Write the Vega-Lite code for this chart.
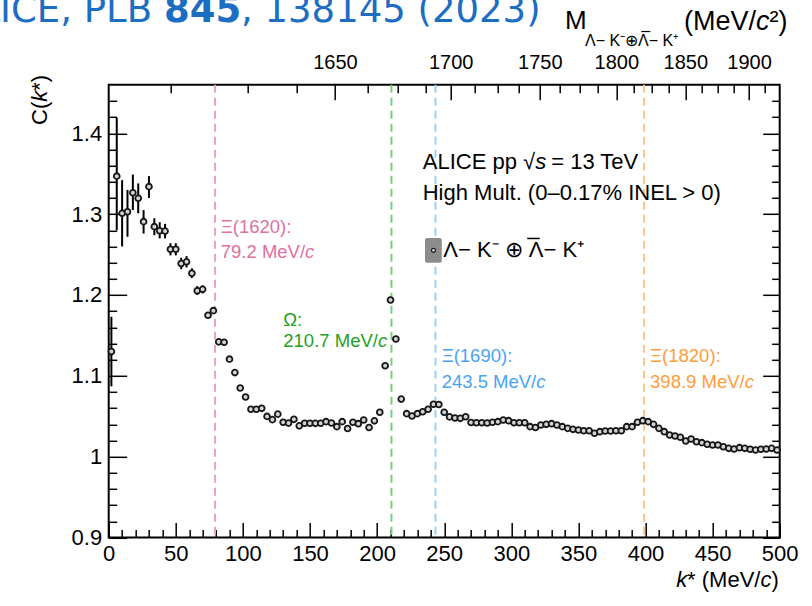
{
  "$schema": "https://vega.github.io/schema/vega-lite/v6.json",
  "width": 671,
  "height": 452.7,
  "autosize": {"type": "none"},
  "padding": {"left": 108.7, "top": 84.8, "right": 32.3, "bottom": 68.5},
  "background": "white",
  "config": {
    "view": {"stroke": "black", "strokeWidth": 2},
    "axis": {
      "grid": false, "domain": false, "tickColor": "black", "tickWidth": 1.5,
      "labelFont": "Liberation Sans", "labelFontSize": 22, "labelColor": "black",
      "titleFont": "Liberation Sans", "titleFontSize": 22, "titleFontWeight": "normal", "titleColor": "black",
      "labelFlush": false, "labelOverlap": false
    },
    "text": {"font": "Liberation Sans", "fontSize": 22, "color": "black"}
  },
  "datasets": {
    "corr": [
      {"k": 2, "C": 1.130, "lo": 1.087, "hi": 1.173},
      {"k": 6, "C": 1.347, "lo": 1.280, "hi": 1.419},
      {"k": 10, "C": 1.301, "lo": 1.260, "hi": 1.342},
      {"k": 14, "C": 1.303, "lo": 1.272, "hi": 1.330},
      {"k": 18, "C": 1.3265, "lo": 1.305, "hi": 1.349},
      {"k": 22, "C": 1.3196, "lo": 1.301, "hi": 1.338},
      {"k": 26, "C": 1.2907, "lo": 1.276, "hi": 1.305},
      {"k": 30, "C": 1.334, "lo": 1.320, "hi": 1.347},
      {"k": 34, "C": 1.2845, "lo": 1.274, "hi": 1.295},
      {"k": 38, "C": 1.2795, "lo": 1.270, "hi": 1.290},
      {"k": 42, "C": 1.279, "lo": 1.270, "hi": 1.288},
      {"k": 46, "C": 1.2565, "lo": 1.249, "hi": 1.264},
      {"k": 50, "C": 1.2565, "lo": 1.249, "hi": 1.264},
      {"k": 54, "C": 1.239, "lo": 1.232, "hi": 1.246},
      {"k": 58, "C": 1.241, "lo": 1.234, "hi": 1.248},
      {"k": 62, "C": 1.2268, "lo": 1.221, "hi": 1.233},
      {"k": 66, "C": 1.2053, "lo": 1.200, "hi": 1.211},
      {"k": 70, "C": 1.207, "lo": 1.202, "hi": 1.212},
      {"k": 74, "C": 1.175},
      {"k": 78, "C": 1.1806},
      {"k": 82, "C": 1.142},
      {"k": 86, "C": 1.1415},
      {"k": 90, "C": 1.1206},
      {"k": 94, "C": 1.104},
      {"k": 98, "C": 1.085},
      {"k": 102, "C": 1.0738},
      {"k": 106, "C": 1.0586},
      {"k": 110, "C": 1.0586},
      {"k": 114, "C": 1.0598},
      {"k": 118, "C": 1.0498},
      {"k": 122, "C": 1.0458},
      {"k": 126, "C": 1.0526},
      {"k": 130, "C": 1.0425},
      {"k": 134, "C": 1.0415},
      {"k": 138, "C": 1.0462},
      {"k": 142, "C": 1.0381},
      {"k": 146, "C": 1.0413},
      {"k": 150, "C": 1.0413},
      {"k": 154, "C": 1.0412},
      {"k": 158, "C": 1.0413},
      {"k": 162, "C": 1.0433},
      {"k": 166, "C": 1.0416},
      {"k": 170, "C": 1.0371},
      {"k": 174, "C": 1.0433},
      {"k": 178, "C": 1.0348},
      {"k": 182, "C": 1.0425},
      {"k": 186, "C": 1.0408},
      {"k": 190, "C": 1.0453},
      {"k": 194, "C": 1.036},
      {"k": 198, "C": 1.0443},
      {"k": 202, "C": 1.0549},
      {"k": 206, "C": 1.1125},
      {"k": 210, "C": 1.1938},
      {"k": 214, "C": 1.1456},
      {"k": 218, "C": 1.0712},
      {"k": 222, "C": 1.0532},
      {"k": 226, "C": 1.0503},
      {"k": 230, "C": 1.0532},
      {"k": 234, "C": 1.0556},
      {"k": 238, "C": 1.0586},
      {"k": 242, "C": 1.0648},
      {"k": 246, "C": 1.0645},
      {"k": 250, "C": 1.0549},
      {"k": 254, "C": 1.0492},
      {"k": 258, "C": 1.0478},
      {"k": 262, "C": 1.0474},
      {"k": 266, "C": 1.0494},
      {"k": 270, "C": 1.0422},
      {"k": 274, "C": 1.042},
      {"k": 278, "C": 1.042},
      {"k": 282, "C": 1.0417},
      {"k": 286, "C": 1.0425},
      {"k": 290, "C": 1.0433},
      {"k": 294, "C": 1.0453},
      {"k": 298, "C": 1.0445},
      {"k": 302, "C": 1.042},
      {"k": 306, "C": 1.042},
      {"k": 310, "C": 1.042},
      {"k": 314, "C": 1.0371},
      {"k": 318, "C": 1.036},
      {"k": 322, "C": 1.0392},
      {"k": 326, "C": 1.04},
      {"k": 330, "C": 1.0408},
      {"k": 334, "C": 1.0392},
      {"k": 338, "C": 1.0371},
      {"k": 342, "C": 1.035},
      {"k": 346, "C": 1.0338},
      {"k": 350, "C": 1.033},
      {"k": 354, "C": 1.0321},
      {"k": 358, "C": 1.0321},
      {"k": 362, "C": 1.0289},
      {"k": 366, "C": 1.0309},
      {"k": 370, "C": 1.0317},
      {"k": 374, "C": 1.0317},
      {"k": 378, "C": 1.0321},
      {"k": 382, "C": 1.0321},
      {"k": 386, "C": 1.0371},
      {"k": 390, "C": 1.0371},
      {"k": 394, "C": 1.0425},
      {"k": 398, "C": 1.0445},
      {"k": 402, "C": 1.0433},
      {"k": 406, "C": 1.04},
      {"k": 410, "C": 1.035},
      {"k": 414, "C": 1.0309},
      {"k": 418, "C": 1.0268},
      {"k": 422, "C": 1.0256},
      {"k": 426, "C": 1.024},
      {"k": 430, "C": 1.0194},
      {"k": 434, "C": 1.0218},
      {"k": 438, "C": 1.0185},
      {"k": 442, "C": 1.0173},
      {"k": 446, "C": 1.0153},
      {"k": 450, "C": 1.0144},
      {"k": 454, "C": 1.0144},
      {"k": 458, "C": 1.0123},
      {"k": 462, "C": 1.0103},
      {"k": 466, "C": 1.0095},
      {"k": 470, "C": 1.0111},
      {"k": 474, "C": 1.0103},
      {"k": 478, "C": 1.0091},
      {"k": 482, "C": 1.0082},
      {"k": 486, "C": 1.0091},
      {"k": 490, "C": 1.0095},
      {"k": 494, "C": 1.0103},
      {"k": 498, "C": 1.0082}
    ],
    "res": [
      {"name": "Xi1620", "k": 79.2},
      {"name": "Omega", "k": 210.7},
      {"name": "Xi1690", "k": 243.5},
      {"name": "Xi1820", "k": 398.9}
    ]
  },
  "resolve": {"axis": {"x": "independent", "y": "independent"}},
  "layer": [
    {
      "data": {"name": "res"},
      "mark": {"type": "rule", "strokeDash": [8, 5], "strokeWidth": 2},
      "encoding": {
        "x": {
          "field": "k", "type": "quantitative",
          "scale": {"domain": [0, 500], "nice": false, "zero": false},
          "axis": {
            "orient": "top", "values": [168.55, 254.85, 321.24, 378.27, 429.64, 477.14],
            "labelExpr": "format(round((sqrt(1244748.6 + datum.value * datum.value) + sqrt(243716.97 + datum.value * datum.value)) / 50) * 50, 'd')",
            "tickSize": -15, "labelPadding": 27, "labelFontSize": 20, "title": null
          }
        },
        "color": {
          "field": "name", "type": "nominal", "legend": null,
          "scale": {"domain": ["Xi1620", "Omega", "Xi1690", "Xi1820"], "range": ["#eaa3c3", "#7ccb7c", "#9dd0f7", "#ffc68c"]}
        }
      }
    },
    {
      "data": {"name": "corr"},
      "transform": [{"filter": "datum.lo != null"}],
      "mark": {"type": "rule", "color": "black", "strokeWidth": 2},
      "encoding": {
        "x": {
          "field": "k", "type": "quantitative",
          "scale": {"domain": [0, 500], "nice": false, "zero": false},
          "axis": {
            "orient": "bottom",
            "values": [10, 20, 30, 40, 60, 70, 80, 90, 110, 120, 130, 140, 160, 170, 180, 190, 210, 220, 230, 240, 260, 270, 280, 290, 310, 320, 330, 340, 360, 370, 380, 390, 410, 420, 430, 440, 460, 470, 480, 490],
            "tickSize": -8, "labels": false, "title": null
          }
        },
        "y": {
          "field": "lo", "type": "quantitative",
          "scale": {"domain": [0.9, 1.46], "nice": false, "zero": false},
          "axis": {
            "orient": "left",
            "values": [0.92, 0.94, 0.96, 0.98, 1.02, 1.04, 1.06, 1.08, 1.12, 1.14, 1.16, 1.18, 1.22, 1.24, 1.26, 1.28, 1.32, 1.34, 1.36, 1.38, 1.42, 1.44],
            "tickSize": -8, "labels": false, "title": null
          }
        },
        "y2": {"field": "hi"}
      }
    },
    {
      "data": {"name": "corr"},
      "mark": {"type": "point", "shape": "circle", "size": 34, "fill": "#d4d4d4", "stroke": "#161616", "strokeWidth": 1.8, "opacity": 1},
      "encoding": {
        "x": {
          "field": "k", "type": "quantitative",
          "scale": {"domain": [0, 500], "nice": false, "zero": false},
          "axis": {
            "orient": "bottom", "values": [0, 50, 100, 150, 200, 250, 300, 350, 400, 450, 500],
            "tickSize": -15, "labelPadding": 21, "title": null
          }
        },
        "y": {
          "field": "C", "type": "quantitative",
          "scale": {"domain": [0.9, 1.46], "nice": false, "zero": false},
          "axis": {
            "orient": "left", "values": [0.9, 1, 1.1, 1.2, 1.3, 1.4], "format": "~g",
            "tickSize": -18, "labelPadding": 25, "title": null
          }
        }
      }
    },
    {
      "data": {"name": "corr"},
      "mark": {"type": "point", "opacity": 0},
      "encoding": {
        "x": {
          "field": "k", "type": "quantitative",
          "scale": {"domain": [0, 500], "nice": false, "zero": false},
          "axis": {
            "orient": "top",
            "values": [46.40, 103.89, 139.81, 193.35, 215.56, 235.91, 272.68, 289.59, 305.74, 336.18, 350.62, 364.64, 391.55, 404.52, 417.21, 441.83, 453.80, 465.56, 488.54],
            "tickSize": -8, "labels": false, "title": null
          }
        },
        "y": {
          "field": "C", "type": "quantitative",
          "scale": {"domain": [0.9, 1.46], "nice": false, "zero": false},
          "axis": {"orient": "right", "values": [0.9, 1, 1.1, 1.2, 1.3, 1.4], "tickSize": -17, "labels": false, "title": null}
        }
      }
    },
    {
      "data": {"name": "corr"},
      "mark": {"type": "point", "opacity": 0},
      "encoding": {
        "x": {"field": "k", "type": "quantitative", "scale": {"domain": [0, 500], "nice": false, "zero": false}, "axis": null},
        "y": {
          "field": "C", "type": "quantitative",
          "scale": {"domain": [0.9, 1.46], "nice": false, "zero": false},
          "axis": {
            "orient": "right",
            "values": [0.92, 0.94, 0.96, 0.98, 1.02, 1.04, 1.06, 1.08, 1.12, 1.14, 1.16, 1.18, 1.22, 1.24, 1.26, 1.28, 1.32, 1.34, 1.36, 1.38, 1.42, 1.44],
            "tickSize": -8, "labels": false, "title": null
          }
        }
      }
    },
    {
      "data": {"values": [{}]},
      "mark": {"type": "text", "align": "left", "baseline": "middle", "fontSize": 18.5, "color": "#e0709f"},
      "encoding": {
        "x": {"datum": 83.5, "type": "quantitative", "axis": null},
        "y": {"datum": 1.2845, "type": "quantitative", "axis": null},
        "text": {"value": "Ξ(1620):"}
      }
    },
    {
      "data": {"values": [{}]},
      "mark": {"type": "text", "align": "left", "baseline": "middle", "fontSize": 18.5, "color": "#e0709f"},
      "encoding": {
        "x": {"datum": 83.5, "type": "quantitative", "axis": null},
        "y": {"datum": 1.2535, "type": "quantitative", "axis": null},
        "text": {"value": "79.2 MeV/"}
      }
    },
    {
      "data": {"values": [{}]},
      "mark": {"type": "text", "align": "left", "baseline": "middle", "fontSize": 18.5, "fontStyle": "italic", "dx": 84.3, "color": "#e0709f"},
      "encoding": {
        "x": {"datum": 83.5, "type": "quantitative", "axis": null},
        "y": {"datum": 1.2535, "type": "quantitative", "axis": null},
        "text": {"value": "c"}
      }
    },
    {
      "data": {"values": [{}]},
      "mark": {"type": "text", "align": "left", "baseline": "middle", "fontSize": 18.5, "color": "#1fa01f"},
      "encoding": {
        "x": {"datum": 130.1, "type": "quantitative", "axis": null},
        "y": {"datum": 1.169, "type": "quantitative", "axis": null},
        "text": {"value": "Ω:"}
      }
    },
    {
      "data": {"values": [{}]},
      "mark": {"type": "text", "align": "left", "baseline": "middle", "fontSize": 18.5, "color": "#1fa01f"},
      "encoding": {
        "x": {"datum": 130.1, "type": "quantitative", "axis": null},
        "y": {"datum": 1.1431, "type": "quantitative", "axis": null},
        "text": {"value": "210.7 MeV/"}
      }
    },
    {
      "data": {"values": [{}]},
      "mark": {"type": "text", "align": "left", "baseline": "middle", "fontSize": 18.5, "fontStyle": "italic", "dx": 94.6, "color": "#1fa01f"},
      "encoding": {
        "x": {"datum": 130.1, "type": "quantitative", "axis": null},
        "y": {"datum": 1.1431, "type": "quantitative", "axis": null},
        "text": {"value": "c"}
      }
    },
    {
      "data": {"values": [{}]},
      "mark": {"type": "text", "align": "left", "baseline": "middle", "fontSize": 18.5, "color": "#4aa3f2"},
      "encoding": {
        "x": {"datum": 248.1, "type": "quantitative", "axis": null},
        "y": {"datum": 1.1245, "type": "quantitative", "axis": null},
        "text": {"value": "Ξ(1690):"}
      }
    },
    {
      "data": {"values": [{}]},
      "mark": {"type": "text", "align": "left", "baseline": "middle", "fontSize": 18.5, "color": "#4aa3f2"},
      "encoding": {
        "x": {"datum": 248.1, "type": "quantitative", "axis": null},
        "y": {"datum": 1.0927, "type": "quantitative", "axis": null},
        "text": {"value": "243.5 MeV/"}
      }
    },
    {
      "data": {"values": [{}]},
      "mark": {"type": "text", "align": "left", "baseline": "middle", "fontSize": 18.5, "fontStyle": "italic", "dx": 94.6, "color": "#4aa3f2"},
      "encoding": {
        "x": {"datum": 248.1, "type": "quantitative", "axis": null},
        "y": {"datum": 1.0927, "type": "quantitative", "axis": null},
        "text": {"value": "c"}
      }
    },
    {
      "data": {"values": [{}]},
      "mark": {"type": "text", "align": "left", "baseline": "middle", "fontSize": 18.5, "color": "#ff9c3c"},
      "encoding": {
        "x": {"datum": 403.4, "type": "quantitative", "axis": null},
        "y": {"datum": 1.1245, "type": "quantitative", "axis": null},
        "text": {"value": "Ξ(1820):"}
      }
    },
    {
      "data": {"values": [{}]},
      "mark": {"type": "text", "align": "left", "baseline": "middle", "fontSize": 18.5, "color": "#ff9c3c"},
      "encoding": {
        "x": {"datum": 403.4, "type": "quantitative", "axis": null},
        "y": {"datum": 1.0927, "type": "quantitative", "axis": null},
        "text": {"value": "398.9 MeV/"}
      }
    },
    {
      "data": {"values": [{}]},
      "mark": {"type": "text", "align": "left", "baseline": "middle", "fontSize": 18.5, "fontStyle": "italic", "dx": 94.6, "color": "#ff9c3c"},
      "encoding": {
        "x": {"datum": 403.4, "type": "quantitative", "axis": null},
        "y": {"datum": 1.0927, "type": "quantitative", "axis": null},
        "text": {"value": "c"}
      }
    },
    {
      "data": {"values": [{}]},
      "mark": {"type": "text", "align": "left", "baseline": "middle", "fontSize": 22},
      "encoding": {
        "x": {"datum": 234.0, "type": "quantitative", "axis": null},
        "y": {"datum": 1.3649, "type": "quantitative", "axis": null},
        "text": {"value": "ALICE pp √"}
      }
    },
    {
      "data": {"values": [{}]},
      "mark": {"type": "text", "align": "left", "baseline": "middle", "fontSize": 22, "fontStyle": "italic", "dx": 112.4},
      "encoding": {
        "x": {"datum": 234.0, "type": "quantitative", "axis": null},
        "y": {"datum": 1.3649, "type": "quantitative", "axis": null},
        "text": {"value": "s"}
      }
    },
    {
      "data": {"values": [{}]},
      "mark": {"type": "text", "align": "left", "baseline": "middle", "fontSize": 22, "dx": 128.5},
      "encoding": {
        "x": {"datum": 234.0, "type": "quantitative", "axis": null},
        "y": {"datum": 1.3649, "type": "quantitative", "axis": null},
        "text": {"value": " = 13 TeV"}
      }
    },
    {
      "data": {"values": [{}]},
      "mark": {"type": "text", "align": "left", "baseline": "middle", "fontSize": 22},
      "encoding": {
        "x": {"datum": 234.0, "type": "quantitative", "axis": null},
        "y": {"datum": 1.3258, "type": "quantitative", "axis": null},
        "text": {"value": "High Mult. (0–0.17% INEL > 0)"}
      }
    },
    {
      "data": {"values": [{}]},
      "mark": {"type": "rect", "fill": "#8c8c8c", "cornerRadius": 2},
      "encoding": {
        "x": {"datum": 235.7, "type": "quantitative", "axis": null},
        "x2": {"datum": 248.2},
        "y": {"datum": 1.2705, "type": "quantitative", "axis": null},
        "y2": {"datum": 1.2399}
      }
    },
    {
      "data": {"values": [{}]},
      "mark": {"type": "point", "shape": "circle", "size": 16, "fill": "#d8d8d8", "stroke": "#1a1a1a", "strokeWidth": 1.2, "opacity": 1},
      "encoding": {
        "x": {"datum": 242.0, "type": "quantitative", "axis": null},
        "y": {"datum": 1.2552, "type": "quantitative", "axis": null}
      }
    },
    {
      "data": {"values": [{}]},
      "mark": {"type": "text", "align": "left", "baseline": "middle", "fontSize": 22},
      "encoding": {
        "x": {"datum": 249.3, "type": "quantitative", "axis": null},
        "y": {"datum": 1.2556, "type": "quantitative", "axis": null},
        "text": {"value": "Λ− K⁻ ⊕ Λ− K⁺"}
      }
    },
    {
      "data": {"values": [{}]},
      "mark": {"type": "rule", "color": "black", "strokeWidth": 1.5},
      "encoding": {
        "x": {"datum": 311.9, "type": "quantitative", "axis": null},
        "x2": {"datum": 321.2},
        "y": {"datum": 1.2699, "type": "quantitative", "axis": null}
      }
    },
    {
      "data": {"values": [{}]},
      "mark": {"type": "text", "align": "right", "baseline": "middle", "fontSize": 22},
      "encoding": {
        "x": {"datum": 499.3, "type": "quantitative", "axis": null},
        "y": {"datum": 0.8474, "type": "quantitative", "axis": null},
        "text": {"value": ")"}
      }
    },
    {
      "data": {"values": [{}]},
      "mark": {"type": "text", "align": "right", "baseline": "middle", "fontSize": 22, "fontStyle": "italic", "dx": -7.3},
      "encoding": {
        "x": {"datum": 499.3, "type": "quantitative", "axis": null},
        "y": {"datum": 0.8474, "type": "quantitative", "axis": null},
        "text": {"value": "c"}
      }
    },
    {
      "data": {"values": [{}]},
      "mark": {"type": "text", "align": "right", "baseline": "middle", "fontSize": 22, "dx": -18.3},
      "encoding": {
        "x": {"datum": 499.3, "type": "quantitative", "axis": null},
        "y": {"datum": 0.8474, "type": "quantitative", "axis": null},
        "text": {"value": "* (MeV/"}
      }
    },
    {
      "data": {"values": [{}]},
      "mark": {"type": "text", "align": "right", "baseline": "middle", "fontSize": 22, "fontStyle": "italic", "dx": -91.6},
      "encoding": {
        "x": {"datum": 499.3, "type": "quantitative", "axis": null},
        "y": {"datum": 0.8474, "type": "quantitative", "axis": null},
        "text": {"value": "k"}
      }
    },
    {
      "data": {"values": [{}]},
      "mark": {"type": "text", "align": "left", "baseline": "middle", "fontSize": 22, "angle": 270},
      "encoding": {
        "x": {"datum": -51.2, "type": "quantitative", "axis": null},
        "y": {"datum": 1.4103, "type": "quantitative", "axis": null},
        "text": {"value": "C("}
      }
    },
    {
      "data": {"values": [{}]},
      "mark": {"type": "text", "align": "left", "baseline": "middle", "fontSize": 22, "angle": 270, "fontStyle": "italic", "dx": 23.2},
      "encoding": {
        "x": {"datum": -51.2, "type": "quantitative", "axis": null},
        "y": {"datum": 1.4103, "type": "quantitative", "axis": null},
        "text": {"value": "k"}
      }
    },
    {
      "data": {"values": [{}]},
      "mark": {"type": "text", "align": "left", "baseline": "middle", "fontSize": 22, "angle": 270, "dx": 34.2},
      "encoding": {
        "x": {"datum": -51.2, "type": "quantitative", "axis": null},
        "y": {"datum": 1.4103, "type": "quantitative", "axis": null},
        "text": {"value": "*)"}
      }
    },
    {
      "data": {"values": [{}]},
      "mark": {"type": "text", "align": "left", "baseline": "middle", "fontSize": 26},
      "encoding": {
        "x": {"datum": 340.0, "type": "quantitative", "axis": null},
        "y": {"datum": 1.5389, "type": "quantitative", "axis": null},
        "text": {"value": "M"}
      }
    },
    {
      "data": {"values": [{}]},
      "mark": {"type": "text", "align": "left", "baseline": "middle", "fontSize": 16},
      "encoding": {
        "x": {"datum": 354.9, "type": "quantitative", "axis": null},
        "y": {"datum": 1.5142, "type": "quantitative", "axis": null},
        "text": {"value": "Λ− K⁻⊕Λ− K⁺"}
      }
    },
    {
      "data": {"values": [{}]},
      "mark": {"type": "rule", "color": "black", "strokeWidth": 1.2},
      "encoding": {
        "x": {"datum": 396.9, "type": "quantitative", "axis": null},
        "x2": {"datum": 403.6},
        "y": {"datum": 1.5259, "type": "quantitative", "axis": null}
      }
    },
    {
      "data": {"values": [{}]},
      "mark": {"type": "text", "align": "left", "baseline": "middle", "fontSize": 27},
      "encoding": {
        "x": {"datum": 428.7, "type": "quantitative", "axis": null},
        "y": {"datum": 1.5377, "type": "quantitative", "axis": null},
        "text": {"value": "(MeV/"}
      }
    },
    {
      "data": {"values": [{}]},
      "mark": {"type": "text", "align": "left", "baseline": "middle", "fontSize": 27, "fontStyle": "italic", "dx": 72},
      "encoding": {
        "x": {"datum": 428.7, "type": "quantitative", "axis": null},
        "y": {"datum": 1.5377, "type": "quantitative", "axis": null},
        "text": {"value": "c"}
      }
    },
    {
      "data": {"values": [{}]},
      "mark": {"type": "text", "align": "left", "baseline": "middle", "fontSize": 27, "dx": 85.5},
      "encoding": {
        "x": {"datum": 428.7, "type": "quantitative", "axis": null},
        "y": {"datum": 1.5377, "type": "quantitative", "axis": null},
        "text": {"value": "²)"}
      }
    },
    {
      "data": {"values": [{}]},
      "mark": {"type": "text", "align": "right", "baseline": "alphabetic", "font": "DejaVu Sans", "fontSize": 37, "color": "#1b6ec2"},
      "encoding": {
        "x": {"datum": 32.3, "type": "quantitative", "axis": null},
        "y": {"datum": 1.5377, "type": "quantitative", "axis": null},
        "text": {"value": "ALICE, PLB"}
      }
    },
    {
      "data": {"values": [{}]},
      "mark": {"type": "text", "align": "left", "baseline": "alphabetic", "font": "DejaVu Sans", "fontSize": 37, "fontWeight": "bold", "color": "#1b6ec2"},
      "encoding": {
        "x": {"datum": 41.2, "type": "quantitative", "axis": null},
        "y": {"datum": 1.5377, "type": "quantitative", "axis": null},
        "text": {"value": "845"}
      }
    },
    {
      "data": {"values": [{}]},
      "mark": {"type": "text", "align": "left", "baseline": "alphabetic", "font": "DejaVu Sans", "fontSize": 37, "color": "#1b6ec2"},
      "encoding": {
        "x": {"datum": 98.6, "type": "quantitative", "axis": null},
        "y": {"datum": 1.5377, "type": "quantitative", "axis": null},
        "text": {"value": ", 138145 (2023)"}
      }
    }
  ]
}
